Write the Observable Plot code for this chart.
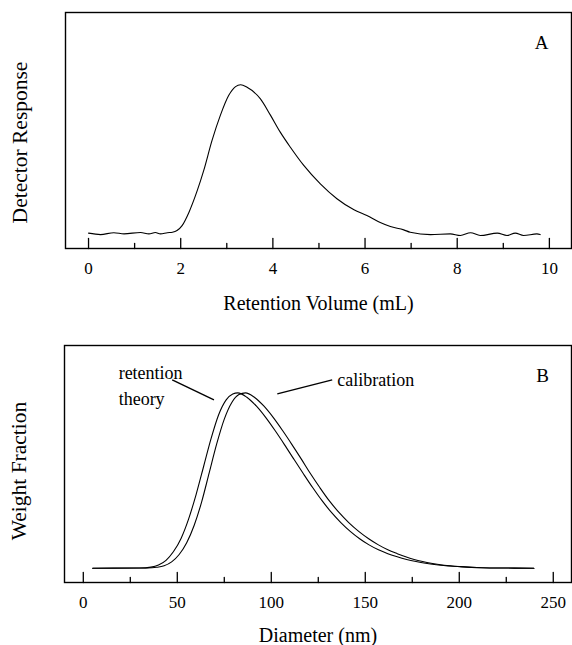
<!DOCTYPE html>
<html>
<head>
<meta charset="utf-8">
<script src="https://cdn.jsdelivr.net/npm/d3@7"></script>
<script src="https://cdn.jsdelivr.net/npm/@observablehq/plot@0.6"></script>
<style>
  body { margin: 0; background: #fff; }
  #chart svg { display: block; }
</style>
</head>
<body>
<div id="chart"></div>
<script>
// Panel A: detector trace against retention volume (arbitrary response units)
const retentionVolume = [0.00, 0.26, 0.55, 0.77, 1.13, 1.31, 1.45, 1.56, 1.71, 1.82, 1.92, 2.03,
  2.18, 2.36, 2.50, 2.68, 2.86, 3.04, 3.19, 3.30, 3.44, 3.73, 3.95, 4.16, 4.38, 4.67, 5.03,
  5.39, 5.76, 6.04, 6.33, 6.55, 6.84, 6.98, 7.42, 7.85, 8.07, 8.29, 8.50, 8.87, 9.08, 9.26,
  9.44, 9.73, 9.80];
const detectorResponse = [0.065, 0.059, 0.067, 0.062, 0.068, 0.062, 0.068, 0.062, 0.067, 0.069, 0.076, 0.097,
  0.154, 0.246, 0.331, 0.458, 0.564, 0.648, 0.686, 0.694, 0.683, 0.634, 0.564, 0.493, 0.429, 0.352, 0.274,
  0.211, 0.164, 0.140, 0.110, 0.093, 0.079, 0.069, 0.059, 0.062, 0.055, 0.067, 0.055, 0.065, 0.055, 0.065,
  0.055, 0.062, 0.059];
const volumeTicks = [0, 2, 4, 6, 8, 10];
const volumeMinorTicks = [1, 3, 5, 7, 9];

// Panel B: weight fraction against particle diameter (peak normalised to 1)
const diameterTheory = [5, 30, 36, 40, 44, 48, 52, 56, 60, 64, 68, 72, 76, 79.5, 82.2,
  87, 92, 97, 102, 107, 112, 117, 122, 127, 132, 137, 142, 147, 152, 157, 162, 167, 172,
  177, 182, 190, 200, 212, 225, 239.7];
const fractionTheory = [0, 0.001, 0.006, 0.018, 0.045, 0.095, 0.17, 0.28, 0.42, 0.58, 0.74, 0.875, 0.96, 0.993, 1.0,
  0.975, 0.925, 0.86, 0.785, 0.705, 0.622, 0.54, 0.46, 0.385, 0.318, 0.26, 0.21, 0.168, 0.133, 0.105, 0.083, 0.065, 0.05,
  0.038, 0.028, 0.017, 0.009, 0.003, 0.001, 0];
const diameterCalibration = [5, 34, 39, 43, 47, 51, 55, 59, 63, 67, 71, 75, 79, 82.8, 86.3,
  91, 96, 101, 106, 111, 116, 120.8, 125.8, 130.8, 136, 141.2, 146.5, 151.8, 157, 162, 167, 171.5, 176,
  180.5, 185, 192, 201, 212, 225, 239.7];
const fractionCalibration = [0, 0.001, 0.005, 0.014, 0.036, 0.078, 0.145, 0.245, 0.38, 0.545, 0.71, 0.85, 0.945, 0.99, 1.0,
  0.975, 0.925, 0.86, 0.785, 0.705, 0.622, 0.54, 0.46, 0.385, 0.318, 0.26, 0.21, 0.168, 0.133, 0.105, 0.083, 0.065, 0.05,
  0.038, 0.028, 0.017, 0.009, 0.003, 0.001, 0];
const diameterTicks = [0, 50, 100, 150, 200, 250];
const diameterMinorTicks = [25, 75, 125, 175, 225];

// Curve labels and their leader lines, in diameter / weight-fraction units
const curveLabels = ["retention\ntheory", "calibration"];
const curveLabelDiameter = [18.8, 135.1];
const curveLabelFraction = [0.933, 1.04];
const leaderFrom = [[47.3, 1.074], [103.2, 0.994]];
const leaderTo = [[69.5, 0.96], [132.4, 1.074]];

const zip = (xs, ys) => xs.map((x, i) => ({x, y: ys[i]}));
const traceA = zip(retentionVolume, detectorResponse);
const theory = zip(diameterTheory, fractionTheory);
const calibration = zip(diameterCalibration, fractionCalibration);
const labels = curveLabels.map((text, i) => ({text, x: curveLabelDiameter[i], y: curveLabelFraction[i]}));
const leaders = leaderFrom.map((p, i) => ({x1: p[0], y1: p[1], x2: leaderTo[i][0], y2: leaderTo[i][1]}));

// ticks drawn inward from the bottom edge of the frame
const tickUp = {draw(context, l) { context.moveTo(0, 0); context.lineTo(0, -l); }};
const inwardTicks = (values, length) =>
  Plot.vector(values, {x: d => d, frameAnchor: "bottom", length, anchor: "start", shape: tickUp,
    stroke: "black", strokeWidth: 1.3});

const font = "'Liberation Serif', 'Times New Roman', serif";
const style = {fontFamily: font, fontSize: "17px", color: "black", background: "white"};

const panelA = Plot.plot({
  width: 572, height: 320,
  marginLeft: 65, marginRight: 1, marginTop: 12, marginBottom: 72,
  style,
  x: {domain: [-0.5, 10.48]},
  y: {domain: [0, 1], axis: null},
  marks: [
    Plot.frame({stroke: "black", strokeWidth: 1.4}),
    inwardTicks(volumeTicks, 10),
    inwardTicks(volumeMinorTicks, 5),
    Plot.axisX(volumeTicks, {tickSize: 0, tickPadding: 13, label: null, fontSize: 17, fontFamily: font}),
    Plot.line(traceA, {x: "x", y: "y", curve: "monotone-x", stroke: "black", strokeWidth: 1.1}),
    Plot.text(["A"], {text: d => d, frameAnchor: "top-right", dx: -30, dy: 30,
      textAnchor: "middle", lineAnchor: "middle", fontSize: 19}),
    Plot.text(["Retention Volume (mL)"], {text: d => d, frameAnchor: "bottom", dy: 55,
      textAnchor: "middle", lineAnchor: "middle", fontSize: 20}),
    Plot.text(["Detector Response"], {text: d => d, frameAnchor: "left", dx: -45, dy: 12,
      rotate: -90, textAnchor: "middle", lineAnchor: "middle", fontSize: 21.5})
  ]
});

const panelB = Plot.plot({
  width: 572, height: 325,
  marginLeft: 64, marginRight: 1, marginTop: 25, marginBottom: 63,
  style,
  x: {domain: [-10, 259.7]},
  y: {domain: [-0.0815, 1.27], axis: null},
  marks: [
    Plot.frame({stroke: "black", strokeWidth: 1.4}),
    inwardTicks(diameterTicks, 10),
    inwardTicks(diameterMinorTicks, 5),
    Plot.axisX(diameterTicks, {tickSize: 0, tickPadding: 13, label: null, fontSize: 17, fontFamily: font}),
    Plot.line(theory, {x: "x", y: "y", curve: "monotone-x", stroke: "black", strokeWidth: 1.1}),
    Plot.line(calibration, {x: "x", y: "y", curve: "monotone-x", stroke: "black", strokeWidth: 1.1}),
    Plot.link(leaders, {x1: "x1", y1: "y1", x2: "x2", y2: "y2", stroke: "black", strokeWidth: 1.4}),
    Plot.text(labels, {x: "x", y: "y", text: "text", textAnchor: "start", lineAnchor: "bottom",
      lineHeight: 1.44, fontSize: 18}),
    Plot.text(["B"], {text: d => d, frameAnchor: "top-right", dx: -29, dy: 30,
      textAnchor: "middle", lineAnchor: "middle", fontSize: 19}),
    Plot.text(["Diameter (nm)"], {text: d => d, frameAnchor: "bottom", dy: 53,
      textAnchor: "middle", lineAnchor: "middle", fontSize: 20}),
    Plot.text(["Weight Fraction"], {text: d => d, frameAnchor: "left", dx: -45, dy: 7,
      rotate: -90, textAnchor: "middle", lineAnchor: "middle", fontSize: 21.5})
  ]
});

const chart = document.getElementById("chart");
chart.append(panelA, panelB);
</script>
</body>
</html>
